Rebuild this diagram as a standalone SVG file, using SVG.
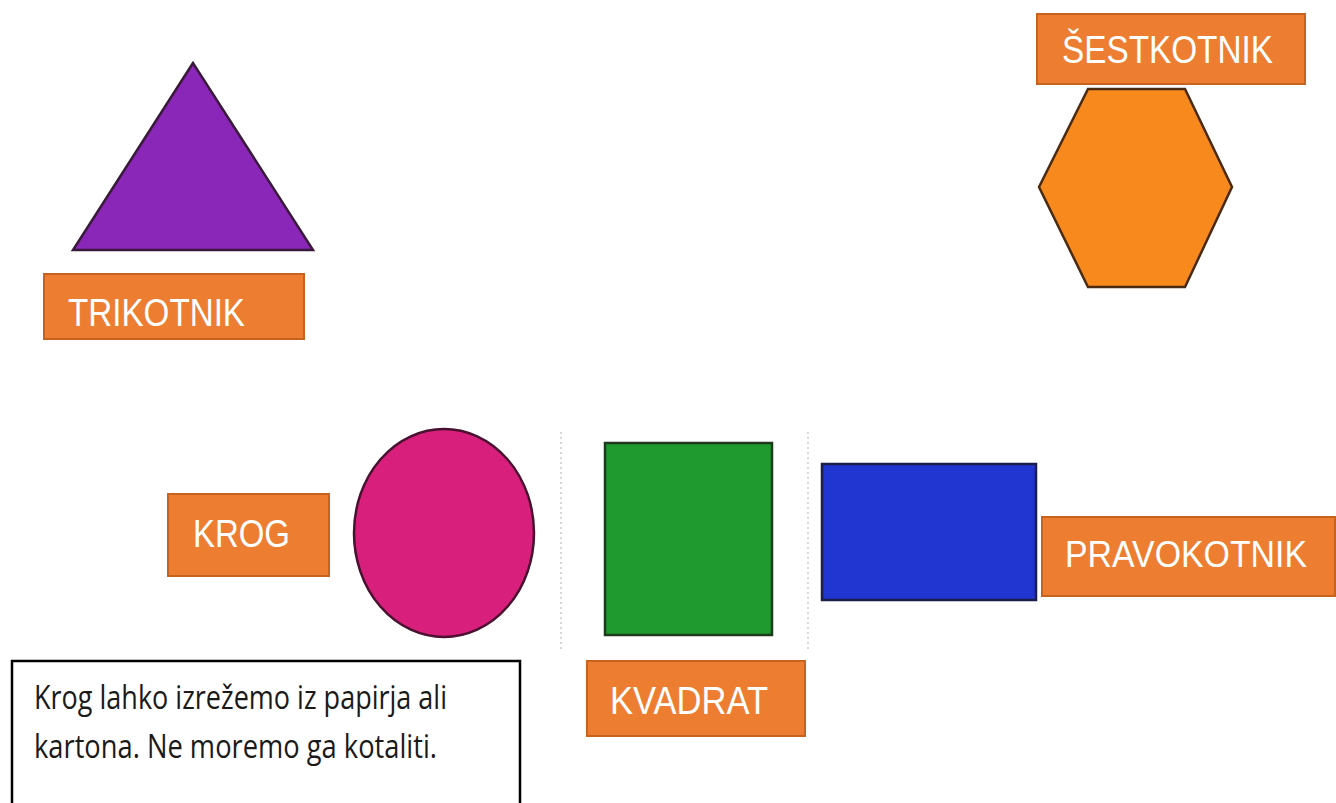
<svg xmlns="http://www.w3.org/2000/svg" width="1336" height="803" viewBox="0 0 1336 803">
<style>
.lbl{fill:#ED7D31;stroke:#C8621F;stroke-width:2}
.lt{font-family:"Liberation Sans",Arial,sans-serif;fill:#FFFFFF;font-size:39px}
.shape{stroke-width:2.5}
.note{font-family:"Open Sans","Noto Sans",sans-serif;font-size:32px;fill:#1a1a1a}
.dot{stroke:#d8d8d8;stroke-width:2;stroke-dasharray:2 3;fill:none}
</style>
<rect width="1336" height="803" fill="#FFFFFF"/>
<g id="guides">
<line class="dot" x1="561" y1="432" x2="561" y2="652"/>
<line class="dot" x1="808" y1="432" x2="808" y2="652"/>
</g>
<g id="trikotnik">
<polygon class="shape" points="193,63 73,250 313,250" fill="#8A27B8" stroke="#3a1a3a"/>
<rect class="lbl" x="44" y="274" width="260" height="65"/>
<text class="lt" x="68" y="326" textLength="177" lengthAdjust="spacingAndGlyphs">TRIKOTNIK</text>
</g>
<g id="sestkotnik">
<rect class="lbl" x="1037" y="14" width="268" height="70"/>
<text class="lt" x="1062" y="63" textLength="211" lengthAdjust="spacingAndGlyphs">ŠESTKOTNIK</text>
<polygon class="shape" points="1088,89 1185,89 1232,187 1185,287 1088,287 1039,187" fill="#F7891D" stroke="#4a2a10"/>
</g>
<g id="krog">
<rect class="lbl" x="168" y="494" width="161" height="82"/>
<text class="lt" x="193" y="547" textLength="97" lengthAdjust="spacingAndGlyphs">KROG</text>
<ellipse class="shape" cx="444" cy="533" rx="90" ry="104" fill="#D81F7C" stroke="#4a1030"/>
</g>
<g id="kvadrat">
<rect class="shape" x="605" y="443" width="167" height="192" fill="#1E9A2E" stroke="#1f3a1f"/>
<rect class="lbl" x="587" y="661" width="218" height="75"/>
<text class="lt" x="610" y="714" textLength="158" lengthAdjust="spacingAndGlyphs">KVADRAT</text>
</g>
<g id="pravokotnik">
<rect class="shape" x="822" y="464" width="214" height="136" fill="#2135D1" stroke="#1a1f4a"/>
<rect class="lbl" x="1042" y="517" width="293" height="79"/>
<text class="lt" x="1065" y="567" style="font-size:36px" textLength="242" lengthAdjust="spacingAndGlyphs">PRAVOKOTNIK</text>
</g>
<g id="opomba">
<rect x="12" y="661" width="508" height="160" fill="#FFFFFF" stroke="#000000" stroke-width="2.5"/>
<text class="note" x="34" y="709" textLength="413" lengthAdjust="spacingAndGlyphs">Krog lahko izrežemo iz papirja ali</text>
<text class="note" x="34" y="758" textLength="403" lengthAdjust="spacingAndGlyphs">kartona. Ne moremo ga kotaliti.</text>
</g>
<g id="connectors"></g>
</svg>
